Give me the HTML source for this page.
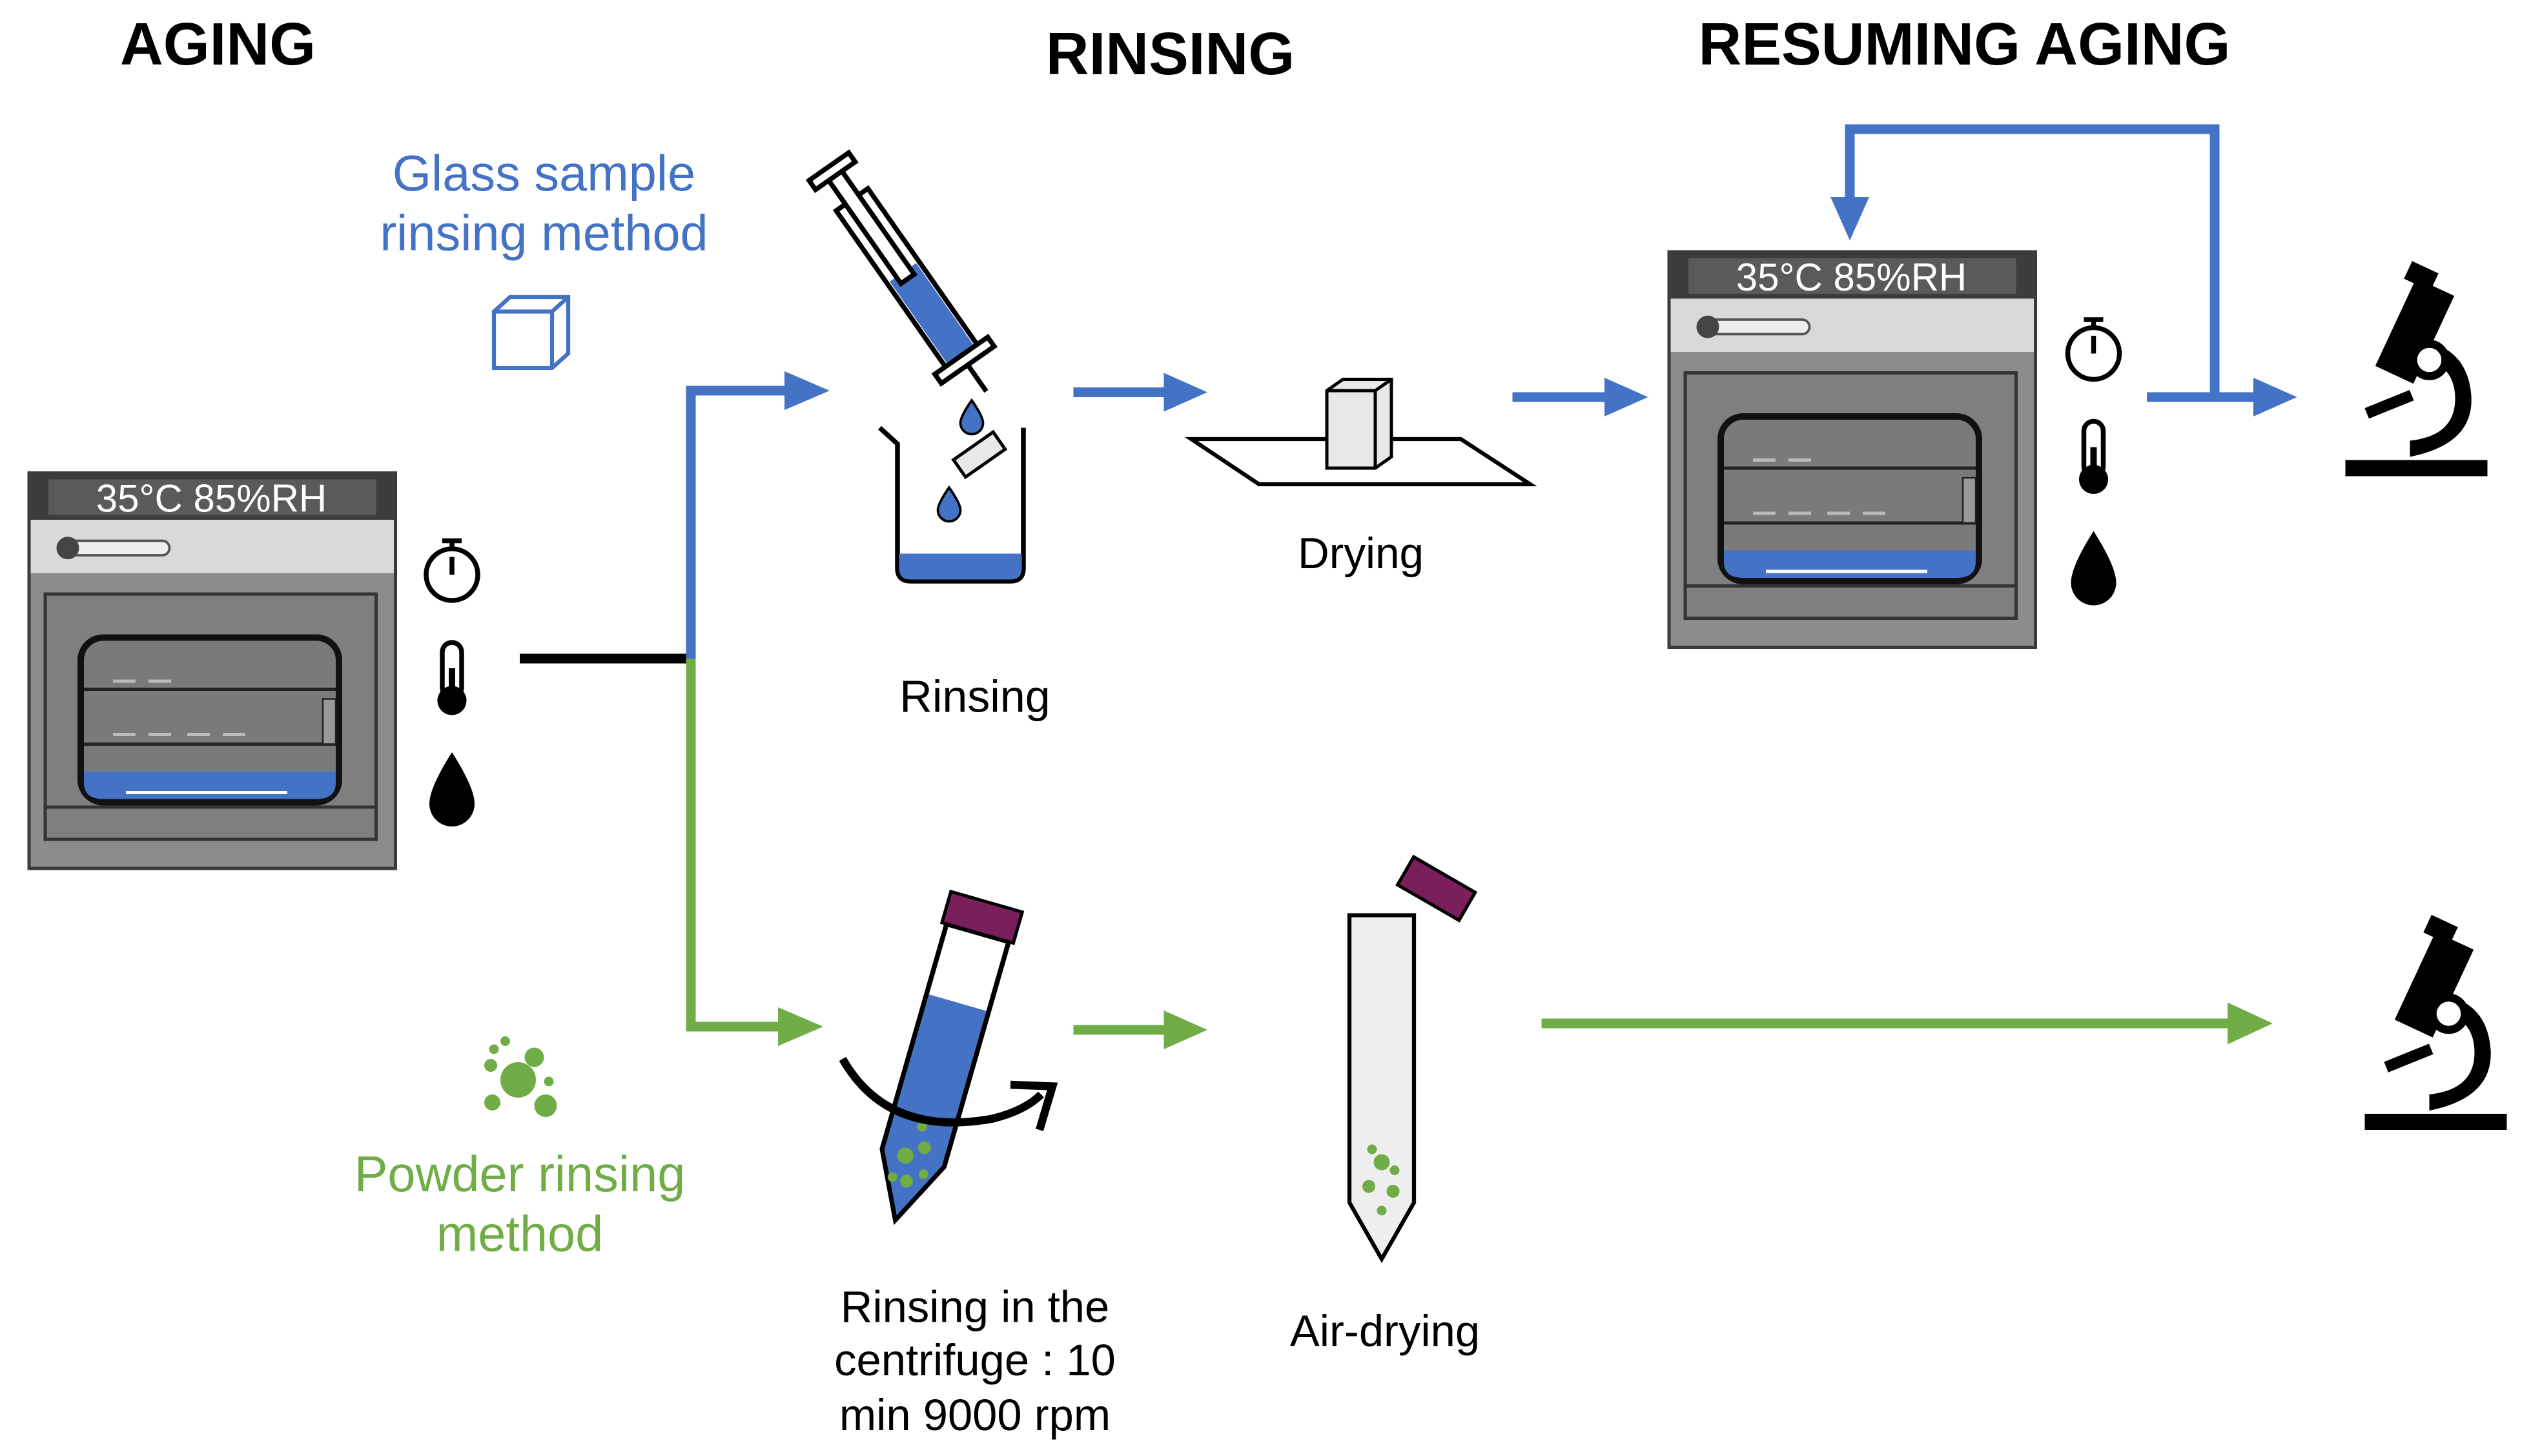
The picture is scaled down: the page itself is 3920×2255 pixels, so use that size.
<!DOCTYPE html>
<html><head><meta charset="utf-8"><style>
html,body{margin:0;padding:0;background:#fff;width:3920px;height:2255px;overflow:hidden}
svg{display:block}
text{font-family:"Liberation Sans",sans-serif}
</style></head><body>
<svg width="3920" height="2255" viewBox="0 0 1568 902" xmlns="http://www.w3.org/2000/svg">
<defs>
<g id="oven">
<rect x="0" y="0" width="227" height="245" fill="#8c8c8c" stroke="#3a3a3a" stroke-width="2"/>
<rect x="0" y="0" width="227" height="29" fill="#3c3c3c"/>
<rect x="12" y="4" width="203" height="22" fill="#5a5a5a"/>
<text x="113" y="24" font-size="24" fill="#fff" text-anchor="middle">35°C 85%RH</text>
<rect x="1" y="29" width="225" height="33" fill="#d9d9d9"/>
<rect x="22" y="42" width="65" height="9" rx="4.5" fill="#eee" stroke="#555" stroke-width="1.5"/>
<circle cx="24" cy="46.5" r="7" fill="#444"/>
<rect x="10" y="75" width="205" height="152" fill="#7f7f7f" stroke="#333" stroke-width="2"/>
<line x1="10" y1="207" x2="215" y2="207" stroke="#333" stroke-width="2"/>
<rect x="32" y="102" width="160" height="102" rx="14" fill="#7a7a7a" stroke="#111" stroke-width="4"/>
<line x1="34" y1="134" x2="190" y2="134" stroke="#222" stroke-width="2"/>
<line x1="34" y1="168" x2="190" y2="168" stroke="#222" stroke-width="2"/>
<path d="M34 185 H190 V192 Q190 202 178 202 H46 Q34 202 34 192 Z" fill="#4472c4"/>
<line x1="60" y1="198" x2="160" y2="198" stroke="#fff" stroke-width="2"/>
<rect x="182" y="140" width="8" height="28" fill="#999" stroke="#222"/>
<g stroke="#bbb" stroke-width="2"><line x1="52" y1="129" x2="66" y2="129"/><line x1="74" y1="129" x2="88" y2="129"/><line x1="52" y1="162" x2="66" y2="162"/><line x1="74" y1="162" x2="88" y2="162"/><line x1="98" y1="162" x2="112" y2="162"/><line x1="120" y1="162" x2="134" y2="162"/></g>
</g>
<g id="icons">
<circle cx="0" cy="0" r="16" fill="#fff" stroke="#000" stroke-width="3"/>
<line x1="0" y1="0" x2="0" y2="-11" stroke="#000" stroke-width="3"/>
<line x1="-6" y1="-21" x2="6" y2="-21" stroke="#000" stroke-width="3"/>
<line x1="0" y1="-21" x2="0" y2="-16" stroke="#000" stroke-width="3"/>
<rect x="-6" y="42" width="12" height="34" rx="6" fill="#fff" stroke="#000" stroke-width="3"/>
<circle cx="0" cy="78" r="9" fill="#000"/>
<line x1="0" y1="58" x2="0" y2="78" stroke="#000" stroke-width="4"/>
<path d="M0 110 Q-14 132 -14 142 A14 14 0 0 0 14 142 Q14 132 0 110 Z" fill="#000"/>
</g>
<g id="micro" fill="#000">
<rect x="0" y="120" width="88" height="10"/>
<path d="M40 118 Q80 110 78 80 Q76 55 55 48 L52 58 Q68 64 68 82 Q68 105 40 108 Z"/>
<rect x="30" y="10" width="26" height="60" transform="rotate(25 43 40)"/>
<rect x="38" y="0" width="18" height="12" transform="rotate(25 47 6)"/>
<circle cx="52" cy="58" r="10" fill="#fff" stroke="#000" stroke-width="5"/>
<rect x="12" y="82" width="30" height="7" transform="rotate(-22 27 85)"/>
</g>
</defs>

<text x="135" y="40" font-size="37" font-weight="bold" text-anchor="middle">AGING</text>
<text x="725" y="46" font-size="37" font-weight="bold" text-anchor="middle">RINSING</text>
<text x="1217" y="40" font-size="37" font-weight="bold" text-anchor="middle">RESUMING AGING</text>

<text x="337" y="118" font-size="31" fill="#4472c4" text-anchor="middle">Glass sample</text>
<text x="337" y="155" font-size="31" fill="#4472c4" text-anchor="middle">rinsing method</text>
<g fill="none" stroke="#4472c4" stroke-width="2.5">
<path d="M306 193 L316 184 H352 V219 L342 228 H306 Z"/><path d="M306 193 H342 V228 M342 193 L352 184"/>
</g>

<use href="#oven" x="18" y="293"/>
<use href="#icons" x="280" y="356"/>
<use href="#oven" x="1034" y="156"/>
<use href="#icons" x="1297" y="219"/>

<line x1="322" y1="408" x2="428" y2="408" stroke="#000" stroke-width="6"/>
<path d="M428 408 V242 H490" fill="none" stroke="#4472c4" stroke-width="6"/>
<path d="M486 230 L514 242 L486 254 Z" fill="#4472c4"/>
<path d="M428 408 V636 H486" fill="none" stroke="#70ad47" stroke-width="6"/>
<path d="M482 624 L510 636 L482 648 Z" fill="#70ad47"/>

<!-- syringe -->
<g transform="translate(8 16) rotate(-35 560 165)">
<rect x="548" y="95" width="24" height="120" fill="#fff" stroke="#000" stroke-width="3"/>
<rect x="550" y="150" width="20" height="63" fill="#4472c4"/>
<rect x="540" y="213" width="40" height="7" fill="#fff" stroke="#000" stroke-width="3"/>
<rect x="555" y="75" width="10" height="80" fill="#fff" stroke="#000" stroke-width="3"/>
<rect x="545" y="70" width="30" height="7" fill="#fff" stroke="#000" stroke-width="3"/>
<line x1="560" y1="220" x2="560" y2="240" stroke="#000" stroke-width="3"/>
</g>
<path d="M602 248 Q595 258 595 262 A7 7 0 0 0 609 262 Q609 258 602 248Z" fill="#4472c4" stroke="#000" stroke-width="1.5"/>
<path d="M588 302 Q581 312 581 316 A7 7 0 0 0 595 316 Q595 312 588 302Z" fill="#4472c4" stroke="#000" stroke-width="1.5"/>
<path d="M545 265 L556 275 V352 Q556 360 564 360 H626 Q634 360 634 352 V265" fill="none" stroke="#000" stroke-width="3"/>
<path d="M557 343 H633 V352 Q633 359 626 359 H564 Q557 359 557 352 Z" fill="#4472c4"/>
<g transform="rotate(-35 607 282)"><rect x="592" y="275" width="30" height="13" fill="#e8e8e8" stroke="#000" stroke-width="2"/></g>
<text x="604" y="441" font-size="28" text-anchor="middle">Rinsing</text>

<line x1="665" y1="243" x2="725" y2="243" stroke="#4472c4" stroke-width="6"/>
<path d="M721 231 L748 243 L721 255 Z" fill="#4472c4"/>
<path d="M738 272 H905 L948 300 H780 Z" fill="#fff" stroke="#000" stroke-width="2.5"/>
<path d="M822 242 L832 235 H862 V283 L852 290 H822 Z" fill="#e8e8e8" stroke="#000" stroke-width="2"/>
<path d="M822 242 H852 V290 M852 242 L862 235" fill="none" stroke="#000" stroke-width="2"/>
<text x="843" y="352" font-size="27" text-anchor="middle">Drying</text>

<line x1="937" y1="246" x2="998" y2="246" stroke="#4472c4" stroke-width="6"/>
<path d="M994 234 L1021 246 L994 258 Z" fill="#4472c4"/>
<path d="M1330 246 H1400" stroke="#4472c4" stroke-width="6"/>
<path d="M1396 234 L1423 246 L1396 258 Z" fill="#4472c4"/>
<path d="M1372 246 V80 H1146 V126" fill="none" stroke="#4472c4" stroke-width="6"/>
<path d="M1134 122 L1146 149 L1158 122 Z" fill="#4472c4"/>

<use href="#micro" x="1453" y="165"/>
<use href="#micro" x="1465" y="570"/>

<!-- powder icon -->
<g fill="#70ad47">
<circle cx="321" cy="669" r="11"/><circle cx="338" cy="685" r="7"/><circle cx="305" cy="683" r="5"/>
<circle cx="331" cy="655" r="6"/><circle cx="304" cy="660" r="4"/><circle cx="313" cy="645" r="3"/><circle cx="340" cy="670" r="3"/><circle cx="306" cy="650" r="3"/>
</g>
<text x="322" y="738" font-size="31" fill="#70ad47" text-anchor="middle">Powder rinsing</text>
<text x="322" y="775" font-size="31" fill="#70ad47" text-anchor="middle">method</text>

<!-- centrifuge tube -->
<g transform="rotate(16 585 650)">
<path d="M565 575 V720 L585 760 L605 720 V575 Z" fill="#fff" stroke="#000" stroke-width="3"/>
<path d="M566.5 620 H603.5 V720 L585 757 L566.5 720 Z" fill="#4472c4"/>
<rect x="562" y="555" width="46" height="20" fill="#7a1f5c" stroke="#000" stroke-width="2"/>
<g fill="#70ad47"><circle cx="580" cy="720" r="5"/><circle cx="590" cy="712" r="4"/><circle cx="585" cy="735" r="4"/><circle cx="576" cy="735" r="3"/><circle cx="594" cy="728" r="3"/><circle cx="585" cy="700" r="3"/></g>
</g>
<path d="M522 656 Q550 705 615 693 Q635 688 645 678" fill="none" stroke="#000" stroke-width="5"/>
<path d="M626 672 L652 673 L644 700" fill="none" stroke="#000" stroke-width="5"/>
<text x="604" y="819" font-size="27.5" text-anchor="middle">Rinsing in the</text>
<text x="604" y="852" font-size="27.5" text-anchor="middle">centrifuge : 10</text>
<text x="604" y="886" font-size="27.5" text-anchor="middle">min 9000 rpm</text>

<line x1="665" y1="638" x2="725" y2="638" stroke="#70ad47" stroke-width="6"/>
<path d="M721 626 L748 638 L721 650 Z" fill="#70ad47"/>

<path d="M836 567 H876 V745 L856 780 L836 745 Z" fill="#eee" stroke="#000" stroke-width="2.5"/>
<g transform="rotate(30 889 550)"><rect x="868" y="540" width="44" height="20" fill="#7a1f5c" stroke="#000" stroke-width="2"/></g>
<g fill="#70ad47"><circle cx="856" cy="720" r="5"/><circle cx="848" cy="735" r="4"/><circle cx="863" cy="738" r="4"/><circle cx="856" cy="750" r="3"/><circle cx="850" cy="712" r="3"/><circle cx="864" cy="725" r="3"/></g>
<text x="858" y="834" font-size="27.5" text-anchor="middle">Air-drying</text>

<line x1="955" y1="634" x2="1385" y2="634" stroke="#70ad47" stroke-width="6"/>
<path d="M1380 621 L1408 634 L1380 647 Z" fill="#70ad47"/>
</svg>
</body></html>
